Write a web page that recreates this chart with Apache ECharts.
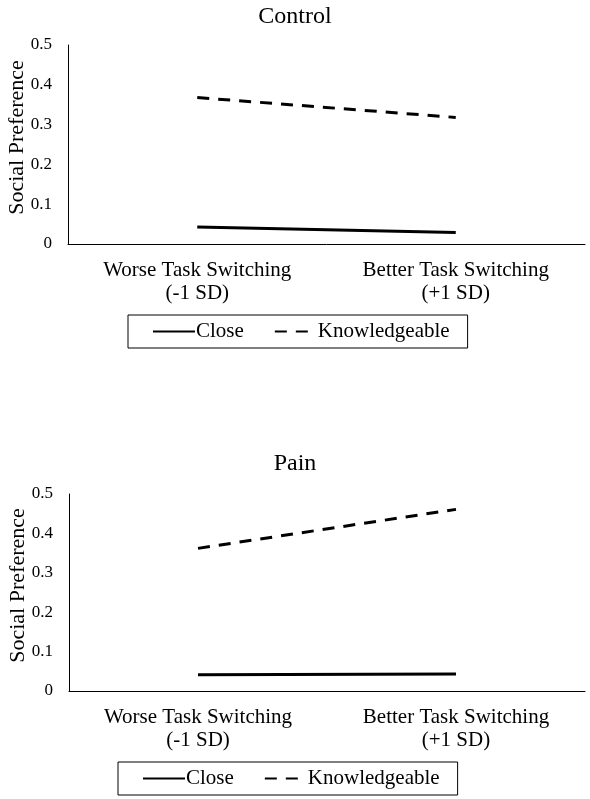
<!DOCTYPE html>
<html>
<head>
<meta charset="utf-8">
<script src="https://cdn.jsdelivr.net/npm/echarts@6/dist/echarts.min.js"></script>
<style>html,body{margin:0;padding:0;background:#fff;}#c{width:590px;height:799px;}</style>
</head>
<body>
<div id="c"></div>
<script>
const categories = ['Worse Task Switching\n(-1 SD)', 'Better Task Switching\n(+1 SD)'];
const panelTitles = ['Control', 'Pain'];
const controlClose = [0.043, 0.029];
const controlKnowledgeable = [0.368, 0.318];
const painClose = [0.041, 0.043];
const painKnowledgeable = [0.362, 0.461];
const seriesNames = ['Close', 'Knowledgeable'];
const yTicks = { min: 0, max: 0.5, interval: 0.1 };

const F = 'Liberation Serif, Times New Roman, serif';
const chart = echarts.init(document.getElementById('c'));

function xAxis(gi) {
  return {
    type: 'category', gridIndex: gi, data: categories, boundaryGap: true,
    axisLine: { lineStyle: { color: '#000', width: 1 } },
    axisTick: { show: false },
    axisLabel: { color: '#000', fontFamily: F, fontSize: 21, lineHeight: 23, margin: 15, interval: 0 }
  };
}
function yAxis(gi) {
  return {
    type: 'value', gridIndex: gi, min: yTicks.min, max: yTicks.max, interval: yTicks.interval,
    name: 'Social Preference', nameLocation: 'middle', nameRotate: 90, nameGap: 40,
    nameMoveOverlap: false,
    nameTextStyle: { color: '#000', fontFamily: F, fontSize: 22, padding: [0, 0, 0, 14] },
    axisLine: { show: true, lineStyle: { color: '#000', width: 1 } },
    axisTick: { show: false },
    splitLine: { show: false },
    axisLabel: { color: '#000', fontFamily: F, fontSize: 17, margin: 16 }
  };
}
function lineSeries(name, data, gi, dashed) {
  return {
    name: name, type: 'line', xAxisIndex: gi, yAxisIndex: gi, data: data,
    symbol: 'none', animation: false,
    lineStyle: { color: '#000', width: 3, type: dashed ? [12, 9] : 'solid', cap: 'butt' },
    itemStyle: { color: '#000' }
  };
}
function legend(left, top) {
  return {
    data: seriesNames, left: left, top: top, orient: 'horizontal',
    borderColor: '#000', borderWidth: 1, borderRadius: 0,
    padding: [6, 18, 6, 24], itemGap: 30, itemWidth: 42, itemHeight: 14,
    itemStyle: { opacity: 0 },
    textStyle: { color: '#000', fontFamily: F, fontSize: 21, padding: [0, 0, 0, -4] },
    selectedMode: false
  };
}

chart.setOption({
  backgroundColor: '#fff',
  animation: false,
  title: [
    { text: panelTitles[0], left: 'center', top: 0, textStyle: { color: '#000', fontFamily: F, fontSize: 24, fontWeight: 'normal' } },
    { text: panelTitles[1], left: 'center', top: 447, textStyle: { color: '#000', fontFamily: F, fontSize: 24, fontWeight: 'normal' } }
  ],
  grid: [
    { left: 68, right: 5, top: 45, height: 199, outerBoundsMode: 'none', containLabel: false },
    { left: 69, right: 5, top: 494, height: 197, outerBoundsMode: 'none', containLabel: false }
  ],
  xAxis: [xAxis(0), xAxis(1)],
  yAxis: [yAxis(0), yAxis(1)],
  legend: [legend(128, 315), legend(118, 762)],
  series: [
    lineSeries(seriesNames[0], controlClose, 0, false),
    lineSeries(seriesNames[1], controlKnowledgeable, 0, true),
    lineSeries(seriesNames[0], painClose, 1, false),
    lineSeries(seriesNames[1], painKnowledgeable, 1, true)
  ]
});
</script>
</body>
</html>
